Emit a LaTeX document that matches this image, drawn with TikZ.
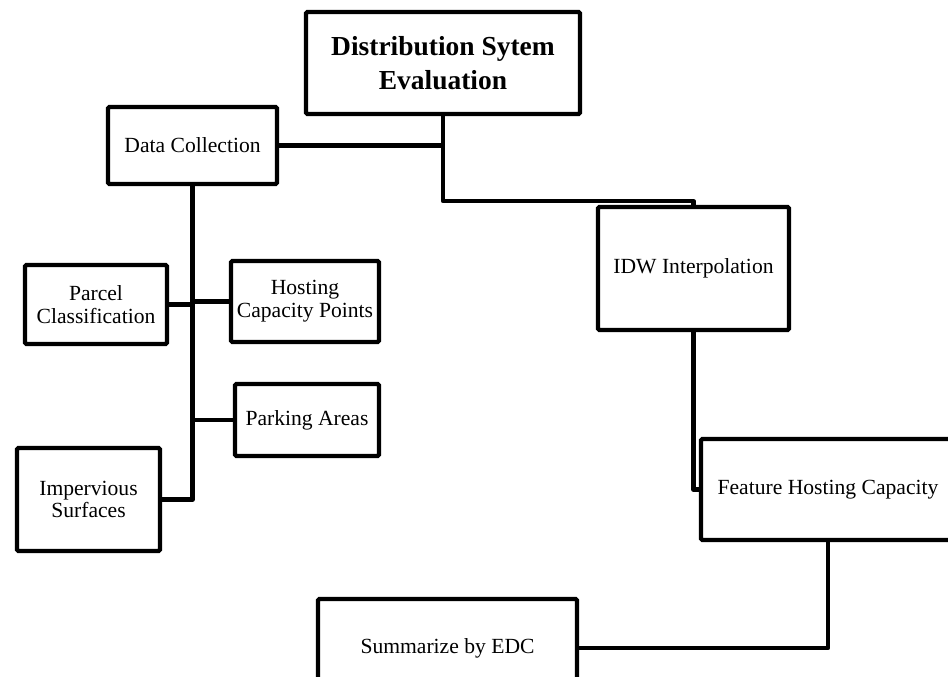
\documentclass[tikz,border=0pt]{standalone}
\usepackage{fontspec}
\setmainfont{Liberation Serif}
\newcommand{\pxu}{0.75pt}
\begin{document}
\begin{tikzpicture}[x=0.75pt,y=-0.75pt,
  box/.style 2 args={draw=black, line width=3.2pt, rounded corners=1pt, fill=white,
    inner sep=0pt, align=center, minimum width=#1*\pxu, minimum height=#2*\pxu,
    font=\fontsize{16.2pt}{17pt}\selectfont},
  link/.style={draw=black, line width=3.2pt, line join=round}]
\useasboundingbox (0,0) rectangle (948,677);
\clip (0,0) rectangle (948,677);

% boxes
\node[box={274}{102}, font=\fontsize{20.6pt}{25pt}\selectfont\bfseries] (dse) at (443,63)
  {Distribution Sytem\\Evaluation};
\node[box={169}{77}]  (dc)  at (192.5,145.5) {Data Collection};
\node[box={142}{79}]  (pc)  at (96,304.5)    {Parcel\\Classification};
\node[box={148}{81}]  (hcp) at (305,301.5)   {Hosting\\Capacity Points};
\node[box={144}{72}]  (pa)  at (307,420)     {Parking Areas};
\node[box={143}{103}] (is)  at (88.5,499.5)  {Impervious\\Surfaces};
\node[box={191}{123}] (idw) at (693.5,268.5) {IDW Interpolation};
\node[box={254}{101}] (fhc) at (828,489.5)   {Feature Hosting Capacity};
\node[box={259}{98}]  (sum) at (447.5,648)   {Summarize by EDC};

% connectors
\draw[link] (dc.east) -- (dc.east -| dse.south);
\draw[link] (dse.south) -- ++(0,85) coordinate (bend) -| (idw.north);
\draw[link] (dc.south) |- (is.east);
\draw[link] (pc.east) -- (pc.east -| dc.south);
\draw[link] (hcp.west) -- (hcp.west -| dc.south);
\draw[link] (pa.west) -- (pa.west -| dc.south);
\draw[link] (idw.south) |- (fhc.west);
\draw[link] (fhc.south) |- (sum.east);
\end{tikzpicture}
\end{document}
